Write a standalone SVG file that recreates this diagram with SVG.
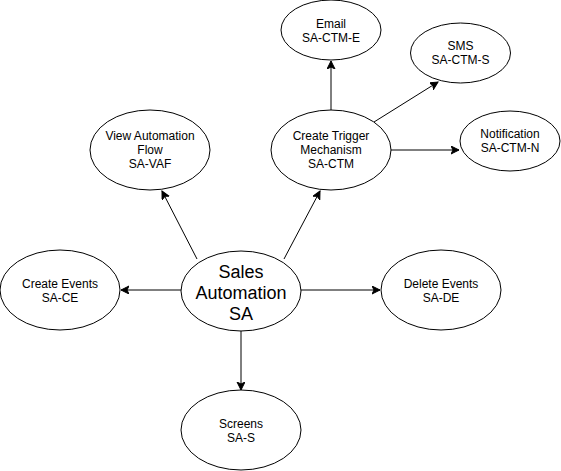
<svg xmlns="http://www.w3.org/2000/svg" width="561" height="471" viewBox="0 0 561 471">
<style>
.n ellipse{fill:#fff;stroke:#000;stroke-width:1}
.n text{font-family:"Liberation Sans",Arial,sans-serif;font-size:12px;fill:#000;text-anchor:middle}
.n text.big{font-size:18px}
.c line{stroke:#000;stroke-width:1;fill:none;marker-end:url(#ah)}
</style>
<defs>
<marker id="ah" markerUnits="userSpaceOnUse" markerWidth="10" markerHeight="10" refX="8" refY="4" orient="auto">
<path d="M0,0 L8,4 L0,8 L2,4 z" fill="#000" stroke="#000" stroke-width="1"/>
</marker>
</defs>
<g class="c" id="connectors">
<line x1="331" y1="110" x2="331" y2="61"/>
<line x1="374" y1="122" x2="438" y2="82"/>
<line x1="391" y1="150" x2="459" y2="150"/>
<line x1="197" y1="259" x2="162" y2="191"/>
<line x1="284" y1="259" x2="320" y2="191"/>
<line x1="181" y1="290" x2="121" y2="290"/>
<line x1="301" y1="290" x2="380" y2="290"/>
<line x1="241" y1="330" x2="241" y2="390"/>
</g>
<g class="n" id="email">
<ellipse cx="331" cy="30" rx="50" ry="30"/>
<text x="331" y="28">Email</text>
<text x="331" y="42">SA-CTM-E</text>
</g>
<g class="n" id="sms">
<ellipse cx="460.5" cy="53" rx="50" ry="30"/>
<text x="460.5" y="50">SMS</text>
<text x="460.5" y="64">SA-CTM-S</text>
</g>
<g class="n" id="ctm">
<ellipse cx="331" cy="150" rx="60" ry="40"/>
<text x="331" y="140">Create Trigger</text>
<text x="331" y="154">Mechanism</text>
<text x="331" y="168">SA-CTM</text>
</g>
<g class="n" id="notification">
<ellipse cx="510" cy="141" rx="50" ry="30"/>
<text x="510" y="138">Notification</text>
<text x="510" y="152">SA-CTM-N</text>
</g>
<g class="n" id="vaf">
<ellipse cx="150" cy="150" rx="60" ry="40"/>
<text x="150" y="140">View Automation</text>
<text x="150" y="154">Flow</text>
<text x="150" y="168">SA-VAF</text>
</g>
<g class="n" id="sales">
<ellipse cx="241" cy="291" rx="60" ry="40"/>
<text class="big" x="241" y="278">Sales</text>
<text class="big" x="241" y="299">Automation</text>
<text class="big" x="241" y="320">SA</text>
</g>
<g class="n" id="create-events">
<ellipse cx="60" cy="290" rx="60" ry="40"/>
<text x="60" y="288">Create Events</text>
<text x="60" y="302">SA-CE</text>
</g>
<g class="n" id="delete-events">
<ellipse cx="441" cy="290" rx="60" ry="40"/>
<text x="441" y="288">Delete Events</text>
<text x="441" y="302">SA-DE</text>
</g>
<g class="n" id="screens">
<ellipse cx="241" cy="430" rx="60" ry="40"/>
<text x="241" y="428">Screens</text>
<text x="241" y="442">SA-S</text>
</g>
</svg>
